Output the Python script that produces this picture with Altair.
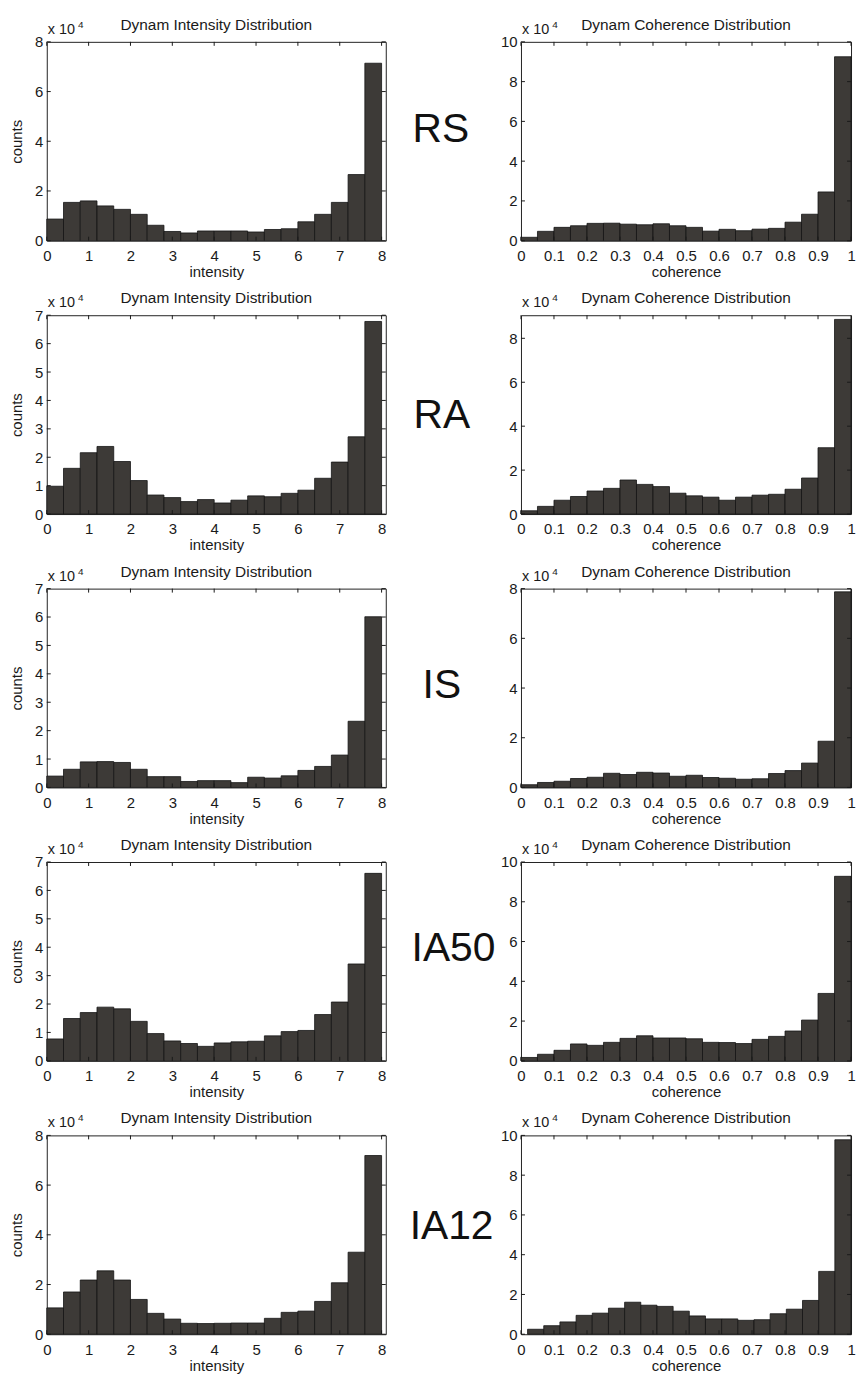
import altair as alt
import pandas as pd
import numpy as np

# ---------------- data (counts in units of 10^4) ----------------
rows = ["RS", "RA", "IS", "IA50", "IA12"]

rs_int = [0.87, 1.54, 1.60, 1.40, 1.26, 1.06, 0.62, 0.37, 0.31, 0.39, 0.39, 0.39, 0.35, 0.45, 0.48, 0.76, 1.06, 1.54, 2.66, 7.14]
rs_coh = [0.17, 0.47, 0.67, 0.75, 0.87, 0.88, 0.83, 0.80, 0.85, 0.75, 0.67, 0.48, 0.57, 0.50, 0.58, 0.62, 0.93, 1.33, 2.45, 9.25]
ra_int = [0.98, 1.61, 2.16, 2.38, 1.85, 1.18, 0.67, 0.58, 0.44, 0.51, 0.39, 0.49, 0.64, 0.61, 0.73, 0.84, 1.26, 1.83, 2.72, 6.78]
ra_coh = [0.15, 0.35, 0.63, 0.80, 1.05, 1.17, 1.55, 1.35, 1.25, 0.95, 0.83, 0.77, 0.63, 0.77, 0.86, 0.90, 1.13, 1.64, 3.02, 8.86]
is_int = [0.40, 0.64, 0.90, 0.91, 0.88, 0.64, 0.38, 0.38, 0.21, 0.24, 0.24, 0.17, 0.36, 0.33, 0.41, 0.60, 0.74, 1.14, 2.33, 6.01]
is_coh = [0.11, 0.20, 0.25, 0.36, 0.41, 0.57, 0.52, 0.61, 0.58, 0.45, 0.49, 0.40, 0.37, 0.33, 0.35, 0.56, 0.68, 0.98, 1.86, 7.87]
ia50_int = [0.77, 1.49, 1.70, 1.89, 1.83, 1.39, 0.96, 0.70, 0.61, 0.51, 0.63, 0.67, 0.69, 0.88, 1.03, 1.07, 1.63, 2.07, 3.41, 6.60]
ia50_coh = [0.17, 0.33, 0.53, 0.85, 0.78, 0.93, 1.13, 1.26, 1.15, 1.15, 1.11, 0.93, 0.92, 0.87, 1.08, 1.23, 1.50, 2.05, 3.39, 9.28]
ia12_int = [1.06, 1.70, 2.18, 2.55, 2.18, 1.40, 0.84, 0.61, 0.44, 0.43, 0.44, 0.45, 0.45, 0.64, 0.88, 0.93, 1.32, 2.07, 3.30, 7.19]
ia12_coh = [0.25, 0.43, 0.62, 0.95, 1.06, 1.31, 1.61, 1.46, 1.40, 1.16, 0.92, 0.77, 0.77, 0.70, 0.73, 1.03, 1.26, 1.70, 3.16, 9.78]

int_counts = [rs_int, ra_int, is_int, ia50_int, ia12_int]
coh_counts = [rs_coh, ra_coh, is_coh, ia50_coh, ia12_coh]

# bin ranges
int_range = (0.0, 8.0)
coh_ranges = [(0.0, 1.0), (0.0, 1.0), (0.0, 1.0), (0.0, 1.0), (0.02, 1.0)]

# axis ranges / ticks (x 10^4)
int_ymax = [8, 7, 7, 7, 8]
coh_ymax = [10, 9.05, 8, 10, 10]
int_yticks = [[0, 2, 4, 6, 8], [0, 1, 2, 3, 4, 5, 6, 7], [0, 1, 2, 3, 4, 5, 6, 7], [0, 1, 2, 3, 4, 5, 6, 7], [0, 2, 4, 6, 8]]
coh_yticks = [[0, 2, 4, 6, 8, 10], [0, 2, 4, 6, 8], [0, 2, 4, 6, 8], [0, 2, 4, 6, 8, 10], [0, 2, 4, 6, 8, 10]]
int_xticks = [0, 1, 2, 3, 4, 5, 6, 7, 8]
coh_xticks = [0, 0.1, 0.2, 0.3, 0.4, 0.5, 0.6, 0.7, 0.8, 0.9, 1]

# ---------------- style / layout ----------------
FONT = "Liberation Sans"
TXT = "#1a1a1a"
BAR = "#3d3a37"
EDGE = "#141414"
WL, WR, H = 341, 332, 200
TICK = 4
# big row labels: (left x relative to left panel origin, baseline relative to panel top)
label_pos = [(368, 101), (369, 113), (378, 110), (367, 100), (365, 104)]


def make_df(counts, lo, hi):
    edges = np.linspace(lo, hi, len(counts) + 1)
    return pd.DataFrame({"lo": edges[:-1], "hi": edges[1:], "count": counts})


def one_row_chart():
    return alt.Chart(alt.Data(values=[{"a": 1}]))


def panel(df, xdom, xticks, xfmt, ydom, yticks, W, title, xtitle, ytitle, big=None):
    xs = alt.Scale(domain=list(xdom), nice=False, zero=False)
    ys = alt.Scale(domain=list(ydom), nice=False, zero=False)
    xaxis = alt.Axis(values=xticks, format=xfmt, title=xtitle, labelOverlap=False,
                     labelFlush=False, labelBound=False, tickCount=len(xticks))
    yaxis = alt.Axis(values=yticks, format="d", title=ytitle, labelOverlap=False,
                     labelFlush=False, labelBound=False, tickCount=len(yticks))
    bars = alt.Chart(df).mark_rect(color=BAR, stroke=EDGE, strokeWidth=0.8).encode(
        x=alt.X("lo:Q", scale=xs, axis=xaxis),
        x2="hi:Q",
        y=alt.Y("count:Q", scale=ys, axis=yaxis),
        y2=alt.datum(0),
    )
    xt = pd.DataFrame({"t": xticks})
    yt = pd.DataFrame({"t": yticks})
    tb = alt.Chart(xt).mark_rule(color=TXT, strokeWidth=1).encode(
        x=alt.X("t:Q", scale=xs, axis=xaxis), y=alt.value(H), y2=alt.value(H - TICK))
    tt = alt.Chart(xt).mark_rule(color=TXT, strokeWidth=1).encode(
        x=alt.X("t:Q", scale=xs, axis=xaxis), y=alt.value(0), y2=alt.value(TICK))
    tl = alt.Chart(yt).mark_rule(color=TXT, strokeWidth=1).encode(
        y=alt.Y("t:Q", scale=ys, axis=yaxis), x=alt.value(0), x2=alt.value(TICK))
    tr = alt.Chart(yt).mark_rule(color=TXT, strokeWidth=1).encode(
        y=alt.Y("t:Q", scale=ys, axis=yaxis), x=alt.value(W), x2=alt.value(W - TICK))
    ttl = one_row_chart().mark_text(text=title, font=FONT, fontSize=15.5, color=TXT,
                                    align="center", baseline="alphabetic").encode(
        x=alt.value(W / 2), y=alt.value(-12))
    mult = one_row_chart().mark_text(text="x 10", font=FONT, fontSize=14.5, color=TXT,
                                     align="left", baseline="alphabetic").encode(
        x=alt.value(1), y=alt.value(-8))
    expo = one_row_chart().mark_text(text="4", font=FONT, fontSize=10, color=TXT,
                                     align="left", baseline="alphabetic").encode(
        x=alt.value(31.5), y=alt.value(-14))
    layers = [bars, tb, tt, tl, tr, ttl, mult, expo]
    if big is not None:
        name, (bx, by) = big
        layers.append(one_row_chart().mark_text(text=name, font=FONT, fontSize=41, color="#111111",
                                                align="left", baseline="alphabetic").encode(
            x=alt.value(bx), y=alt.value(by)))
    return alt.layer(*layers).properties(width=W, height=H)


panels = []
for i, name in enumerate(rows):
    left = panel(make_df(int_counts[i], *int_range), (0, 8.1), int_xticks, "d", (0, int_ymax[i]),
                 int_yticks[i], WL, "Dynam Intensity Distribution", "intensity", "counts",
                 big=(name, label_pos[i]))
    right = panel(make_df(coh_counts[i], *coh_ranges[i]), (0, 1), coh_xticks, ".1~f", (0, coh_ymax[i]),
                  coh_yticks[i], WR, "Dynam Coherence Distribution", "coherence", None)
    panels.extend([left, right])

chart = alt.ConcatChart(
    concat=panels, columns=2, spacing={"row": 75, "column": 136}, bounds="flush"
).properties(
    padding={"left": 1, "top": 5, "right": 0, "bottom": 2}
).configure_view(stroke="#222222", strokeWidth=1).configure_axis(
    domain=False, ticks=False, grid=False,
    labelFont=FONT, labelFontSize=15, labelColor=TXT,
    titleFont=FONT, titleFontSize=15, titleFontWeight="normal", titleColor=TXT,
    labelFlush=False, labelOverlap=False,
).configure_axisX(labelPadding=8, titlePadding=1).configure_axisY(labelPadding=4, titlePadding=10)

chart.save("out.html", embed_options={"renderer": "svg", "actions": False})
